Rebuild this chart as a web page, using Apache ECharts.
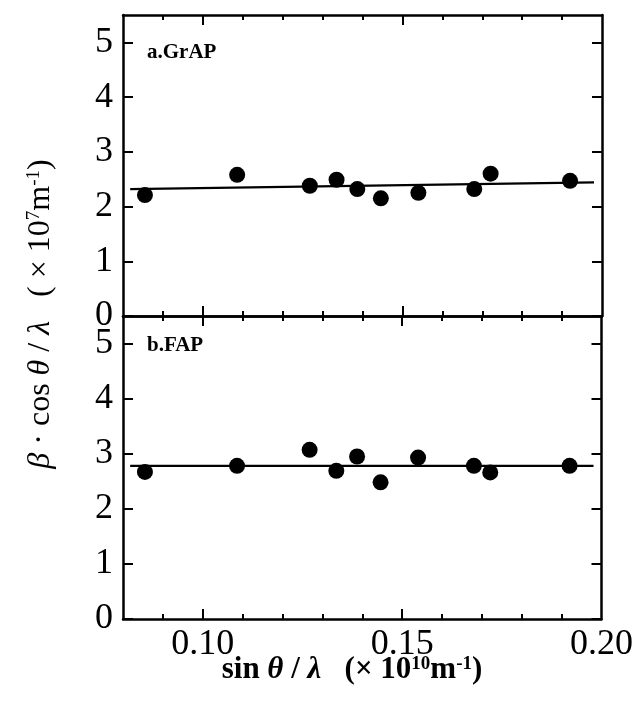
<!DOCTYPE html>
<html>
<head>
<meta charset="utf-8">
<script src="https://cdn.jsdelivr.net/npm/echarts@6/dist/echarts.min.js"></script>
<style>
  html, body { margin: 0; padding: 0; background: #fff; }
  #chart { width: 636px; height: 710px; }
</style>
</head>
<body>
<div id="chart"></div>
<script>
// sin(theta)/lambda of each reflection (x10^10 m^-1), shared by both samples
const sinThetaOverLambda = [0.0855, 0.1086, 0.1268, 0.1335, 0.1387, 0.1446, 0.1540, 0.1680, 0.1721, 0.1920];
// beta*cos(theta)/lambda (x10^7 m^-1)
const grapValues = [2.21, 2.58, 2.38, 2.49, 2.32, 2.15, 2.25, 2.32, 2.60, 2.47];
const fapValues  = [2.67, 2.78, 3.07, 2.69, 2.95, 2.48, 2.93, 2.78, 2.66, 2.78];
// Williamson-Hall fit lines: end points [x, y]
const grapFit = [[0.0818, 2.32], [0.198, 2.44]];
const fapFit  = [[0.0818, 2.78], [0.198, 2.78]];
// axis ticks and labels
const xMinorTicks = [0.09, 0.11, 0.12, 0.13, 0.14, 0.16, 0.17, 0.18, 0.19];
const xMajorTicks = [0.10, 0.15];
const xTickLabels = [0.10, 0.15, 0.20];
const yTicks = [0, 1, 2, 3, 4, 5];
const panelNames = ['a.GrAP', 'b.FAP'];

const FONT = "'Liberation Serif', 'DejaVu Serif', serif";
const INK = '#000';

function pairs(xs, ys) { return xs.map((x, i) => [x, ys[i]]); }

const grids = [
  { left: 123, right: 34, top: 15, height: 301 },
  { left: 123, right: 34, top: 316, height: 303 }
];

const xAxes = [];
const yAxes = [];
grids.forEach((g, gi) => {
  const base = {
    type: 'value', gridIndex: gi, min: 0.08, max: 0.20,
    splitLine: { show: false },
    axisLine: { show: true, onZero: false, lineStyle: { color: INK, width: 2.5 } },
    axisLabel: { show: false }
  };
  // bottom edge with minor ticks (and labels on lower panel)
  xAxes.push(Object.assign({}, base, {
    position: 'bottom',
    axisTick: { show: true, inside: true, length: 5, customValues: xMinorTicks, lineStyle: { color: INK, width: 2 } },
    axisLabel: gi === 1 ? {
      show: true, customValues: xTickLabels, margin: 8, color: INK,
      fontFamily: FONT, fontSize: 36,
      formatter: v => v.toFixed(2)
    } : { show: false }
  }));
  // bottom edge major ticks
  xAxes.push(Object.assign({}, base, {
    position: 'bottom',
    axisLine: { show: false, onZero: false },
    axisTick: { show: true, inside: true, length: 10, customValues: xMajorTicks, lineStyle: { color: INK, width: 2 } }
  }));
  // top edge minor ticks
  xAxes.push(Object.assign({}, base, {
    position: 'top',
    axisTick: { show: true, inside: true, length: 5, customValues: xMinorTicks, lineStyle: { color: INK, width: 2 } }
  }));
  // top edge major ticks
  xAxes.push(Object.assign({}, base, {
    position: 'top',
    axisLine: { show: false, onZero: false },
    axisTick: { show: true, inside: true, length: 10, customValues: xMajorTicks, lineStyle: { color: INK, width: 2 } }
  }));

  const ybase = {
    type: 'value', gridIndex: gi, min: 0, max: 5.5, interval: 1,
    splitLine: { show: false },
    axisLine: { show: true, onZero: false, lineStyle: { color: INK, width: 2.5 } },
    axisTick: { show: true, inside: true, length: 10, customValues: yTicks, lineStyle: { color: INK, width: 2 } }
  };
  yAxes.push(Object.assign({}, ybase, {
    position: 'left',
    axisLabel: { show: true, customValues: yTicks, margin: 10, color: INK, fontFamily: FONT, fontSize: 36 }
  }));
  yAxes.push(Object.assign({}, ybase, {
    position: 'right',
    axisLabel: { show: false }
  }));
});

function scatter(gi, ys) {
  return {
    type: 'scatter', xAxisIndex: gi * 4, yAxisIndex: gi * 2,
    data: pairs(sinThetaOverLambda, ys),
    symbol: 'circle', symbolSize: 16,
    itemStyle: { color: INK, opacity: 1 }, z: 3
  };
}
function fitLine(gi, pts) {
  return {
    type: 'line', xAxisIndex: gi * 4, yAxisIndex: gi * 2,
    data: pts, showSymbol: false, symbol: 'none',
    lineStyle: { color: INK, width: 2.2 }, z: 2
  };
}

const chart = echarts.init(document.getElementById('chart'), null, { renderer: 'canvas' });
chart.setOption({
  backgroundColor: '#fff',
  animation: false,
  grid: grids,
  xAxis: xAxes,
  yAxis: yAxes,
  series: [
    fitLine(0, grapFit), scatter(0, grapValues),
    fitLine(1, fapFit), scatter(1, fapValues)
  ],
  graphic: [
    {
      type: 'text', x: 147, y: 53,
      style: { text: panelNames[0], fill: INK, font: 'bold 21px ' + FONT, textVerticalAlign: 'middle' }
    },
    {
      type: 'text', x: 147, y: 346,
      style: { text: panelNames[1], fill: INK, font: 'bold 21px ' + FONT, textVerticalAlign: 'middle' }
    },
    {
      // x-axis title
      type: 'text', x: 352, y: 670,
      style: {
        text: '{b|sin }{bi|θ}{b| / }{bi|λ}{b|   (× 10}{sup|10}{b|m}{sup|-1}{b|)}',
        align: 'center', verticalAlign: 'middle', fill: INK,
        rich: {
          b: { fontFamily: FONT, fontSize: 31, fontWeight: 'bold', fill: INK },
          bi: { fontFamily: FONT, fontSize: 31, fontWeight: 'bold', fontStyle: 'italic', fill: INK },
          sup: { fontFamily: FONT, fontSize: 19, fontWeight: 'bold', fill: INK, verticalAlign: 'top', padding: [0, 0, 12, 0] }
        }
      }
    },
    {
      // y-axis title, rotated
      type: 'text', x: 41, y: 314, rotation: Math.PI / 2,
      style: {
        text: '{i|β}{n| · cos }{i|θ}{n| / }{i|λ}{n|   ( × 10}{sup|7}{n|m}{sup|-1}{n|)}',
        align: 'center', verticalAlign: 'middle', fill: INK,
        rich: {
          n: { fontFamily: FONT, fontSize: 32, fill: INK },
          i: { fontFamily: FONT, fontSize: 32, fontStyle: 'italic', fill: INK },
          sup: { fontFamily: FONT, fontSize: 19, fill: INK, verticalAlign: 'top', padding: [0, 0, 12, 0] }
        }
      }
    }
  ]
});
</script>
</body>
</html>
